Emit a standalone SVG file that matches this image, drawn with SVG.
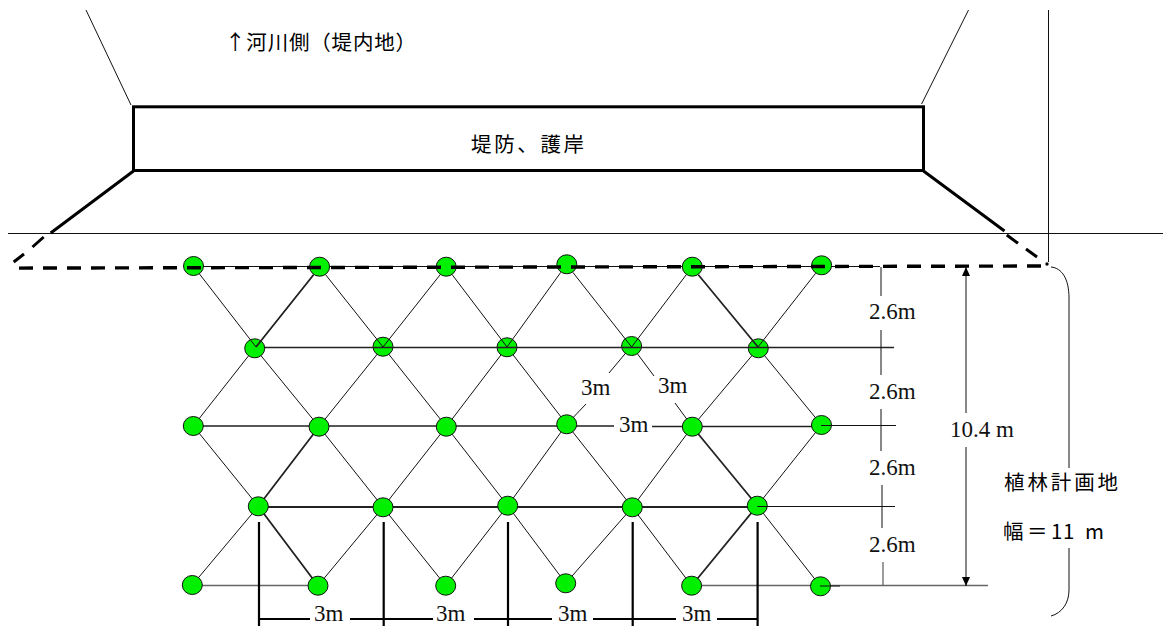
<svg xmlns="http://www.w3.org/2000/svg" width="1163" height="626" viewBox="0 0 1163 626">
<style>
.t{fill:none;stroke:#111;stroke-width:1}
.g{fill:none;stroke:#666;stroke-width:1.3}
.m{fill:none;stroke:#222;stroke-width:1.8}
.h{fill:none;stroke:#222;stroke-width:1.4}
.b{fill:none;stroke:#000;stroke-width:3}
.bd{fill:none;stroke:#000;stroke-width:2.2}
.d{fill:none;stroke:#000;stroke-width:3.4;stroke-dasharray:14 10}
.n ellipse{fill:#00f000;stroke:#111;stroke-width:1}
.s{font-family:"Liberation Serif",serif;font-size:23px;fill:#111}
.j{font-family:"Noto Sans CJK JP",sans-serif;font-size:20.500px;fill:#000;font-weight:400}
</style>
<defs>
<marker id="ah" markerWidth="10" markerHeight="8" refX="9" refY="4" orient="auto-start-reverse" markerUnits="userSpaceOnUse"><path d="M0 0L9 4L0 8Z" fill="#000"/></marker>
</defs>
<g id="connectors-under">
<path class="t" d="M86 10L131 105M968.500 10L921.600 104M1048.500 10V262"/>
<path class="t" d="M8 233.500H1163"/>
<path class="t" d="M193 266.500H880"/>
<path class="h" d="M254 347.500H373"/>
<path class="t" d="M254.700 348L193.300 426M254.700 348L319 426.700M383 347L319 426.700M383 347L446.300 426.700M507 347L446.300 426.700M507 347L566.700 424.300M631.600 346L609 373M586 404L566.700 424.300M631.600 346L654 376M675 403L692.300 426.700M758.300 348L692.300 426.700M758.300 348L821.500 425"/>
<path class="t" d="M193.300 426L258.300 506.300M446.300 426.700L507.700 505.700M319 426.700L383 507.300M446.300 426.700L383 507.300M566.700 424.300L507.700 505.700M566.700 424.300L632.300 507.300M692.300 426.700L632.300 507.300M821.500 425L757.300 505.700"/>
<path class="m" d="M319 426.700L258.300 506.300M692.300 426.700L757.300 505.700"/>
<path class="t" d="M258.300 506.300L192.300 585M383 507.300L318 585.700M383 507.300L445.700 585.700M507.700 505.700L445.700 585.700M507.700 505.700L565.700 583.300M632.300 507.300L565.700 583.300M632.300 507.300L691.600 585.700M757.300 505.700L820.500 586.300"/>
<path class="m" d="M258.300 506.300L318 585.700M757.300 505.700L691.600 585.700"/>
<path class="h" d="M193.300 426H614M652 426.500H821.500"/>
<path class="m" d="M258.300 507H757.300"/>
<path class="g" d="M192.300 585.500H318M691.600 585.500H988"/>
</g>
<g id="frame"><rect class="b" x="133.500" y="106.800" width="790" height="63.700"/></g>
<g id="n11" class="n"><ellipse cx="193.500" cy="266" rx="10" ry="9.500"/></g>
<g id="n12" class="n"><ellipse cx="319.600" cy="266.700" rx="10" ry="9.500"/></g>
<g id="n13" class="n"><ellipse cx="446.200" cy="266.700" rx="10" ry="9.500"/></g>
<g id="n14" class="n"><ellipse cx="566.800" cy="264.300" rx="10" ry="9.500"/></g>
<g id="n15" class="n"><ellipse cx="692.300" cy="266.700" rx="10" ry="9.500"/></g>
<g id="n16" class="n"><ellipse cx="821.600" cy="265.300" rx="10" ry="9.500"/></g>
<g id="n21" class="n"><ellipse cx="254.700" cy="348.300" rx="10" ry="9.500"/></g>
<g id="n22" class="n"><ellipse cx="383" cy="346.700" rx="10" ry="9.500"/></g>
<g id="n23" class="n"><ellipse cx="507" cy="347.300" rx="10" ry="9.500"/></g>
<g id="n24" class="n"><ellipse cx="631.600" cy="346" rx="10" ry="9.500"/></g>
<g id="n25" class="n"><ellipse cx="758.300" cy="348.300" rx="10" ry="9.500"/></g>
<g id="n31" class="n"><ellipse cx="193.300" cy="426" rx="10" ry="9.500"/></g>
<g id="n32" class="n"><ellipse cx="319" cy="426.700" rx="10" ry="9.500"/></g>
<g id="n33" class="n"><ellipse cx="446.300" cy="426.700" rx="10" ry="9.500"/></g>
<g id="n34" class="n"><ellipse cx="566.700" cy="424.300" rx="10" ry="9.500"/></g>
<g id="n35" class="n"><ellipse cx="692.300" cy="426.700" rx="10" ry="9.500"/></g>
<g id="n36" class="n"><ellipse cx="821.500" cy="425" rx="10" ry="9.500"/></g>
<g id="n41" class="n"><ellipse cx="258.300" cy="506.300" rx="10" ry="9.500"/></g>
<g id="n42" class="n"><ellipse cx="383" cy="507.300" rx="10" ry="9.500"/></g>
<g id="n43" class="n"><ellipse cx="507.700" cy="505.700" rx="10" ry="9.500"/></g>
<g id="n44" class="n"><ellipse cx="632.300" cy="507.300" rx="10" ry="9.500"/></g>
<g id="n45" class="n"><ellipse cx="757.300" cy="505.700" rx="10" ry="9.500"/></g>
<g id="n51" class="n"><ellipse cx="192.300" cy="585" rx="10" ry="9.500"/></g>
<g id="n52" class="n"><ellipse cx="318" cy="585.700" rx="10" ry="9.500"/></g>
<g id="n53" class="n"><ellipse cx="445.700" cy="585.700" rx="10" ry="9.500"/></g>
<g id="n54" class="n"><ellipse cx="565.700" cy="583.300" rx="10" ry="9.500"/></g>
<g id="n55" class="n"><ellipse cx="691.600" cy="585.700" rx="10" ry="9.500"/></g>
<g id="n56" class="n"><ellipse cx="820.500" cy="586.300" rx="10" ry="9.500"/></g>
<g id="connectors-over">
<path class="b" d="M133.500 171L50.700 233M923.500 171L1004.500 231"/>
<path class="b" d="M43.700 237L32.500 247M24 254L13.700 262M1006.800 235L1018 243.300M1026 249L1037 257"/>
<path class="d" d="M15 268.100L1047 266" stroke-dashoffset="20"/>
<circle cx="1047" cy="264" r="1.700" fill="#000"/>
<path class="h" d="M373 347.500H894"/>
<path class="t" d="M199.500 274L256 347M313.600 274.700L256 347M325.600 274.700L383 347M440.200 274.700L383 347M452.200 274.700L507 347M560.800 272.300L507 347M572.800 272.300L631.600 347M686.300 274.700L631.600 347M815.600 273.300L758 347"/>
<path class="m" d="M313.600 274.700L256 347M698.300 274.700L758 347"/>
<path class="t" d="M821 425.500H896M757.300 506.500H895M820 586H840"/>
<path class="t" d="M881 267V296M881 330V375M881 409V451M882 485V528"/>
<path class="g" d="M883 562V586"/>
<path class="t" d="M966 267V413M966 447V586" marker-start="url(#ah)" marker-end="url(#ah)"/>
<path class="t" d="M1051 267C1062 268 1069 279 1069 298V468M1069 548V590C1069 603 1062 613 1051 616"/>
<path class="bd" d="M259 522V626M383.700 522V626M508 522V626M632.700 522V626M757.600 522V626"/>
<path class="bd" d="M259 619H310M350 619H433M474 619H552M593 619H676M717 619H758"/>
</g>
<g id="labels">
<text class="j" x="225" y="50" textLength="191">↑河川側（堤内地）</text>
<text class="j" x="471" y="152" textLength="113">堤防、護岸</text>
<text class="j" x="1004" y="490" textLength="114">植林計画地</text>
<text class="j" x="1003 1027 1051 1063 1085" y="539">幅＝11m</text>
<text class="s" x="869" y="319">2.6m</text>
<text class="s" x="869" y="399">2.6m</text>
<text class="s" x="869" y="475">2.6m</text>
<text class="s" x="869" y="552">2.6m</text>
<text class="s" x="950" y="437">10.4 m</text>
<text class="s" x="581" y="395">3m</text>
<text class="s" x="658" y="393">3m</text>
<text class="s" x="619" y="432">3m</text>
<text class="s" x="314" y="621">3m</text>
<text class="s" x="436" y="621">3m</text>
<text class="s" x="558" y="621">3m</text>
<text class="s" x="682" y="621">3m</text>
</g>
</svg>
